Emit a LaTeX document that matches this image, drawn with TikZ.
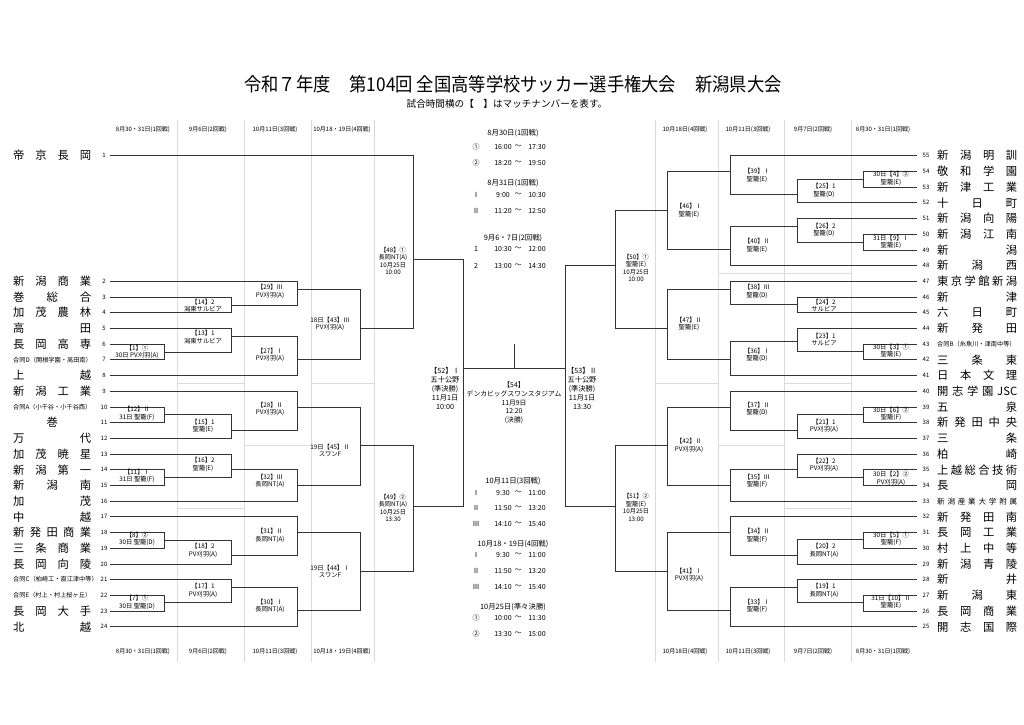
\documentclass[tikz,border=0pt]{standalone}
\usepackage{fontspec}
\setmainfont{Noto Sans CJK JP}
\newfontfamily\titlefont[FakeStretch=0.91]{Noto Sans CJK JP}
\newcommand\NL[1]{\makebox[78pt][s]{#1}}
\newcommand\NR[1]{\makebox[80pt][s]{#1}}
\newcommand\LTeam[4][tname]{%
  \coordinate (t#2) at (110,{155.7+15.7*#3});
  \node[tnum] (n#2) at (104,{155.7+15.7*#3}) {#2};
  \node[#1] (nm#2) at (13,{155.7+15.7*#3}) {#4};}
\newcommand\RTeam[3][tname]{%
  \coordinate (t#2) at (917,{155.7+15.7*(55-#2)});
  \node[tnum] (n#2) at (926,{155.7+15.7*(55-#2)}) {#2};
  \node[#1] (nm#2) at (937,{155.7+15.7*(55-#2)}) {#3};}
\newcommand\Mbr[3]{\draw[br] (#1) -- (#1 -| #3) -- (#2 -| #3) -- (#2);}
\newcommand\TTrow[5]{%
  \node[tt] (#1s) at (476,#2) {#3};
  \node[tt] (#1a) at (503,#2) {#4};
  \node[tt] (#1w) at (518,#2) {～};
  \node[tt] (#1b) at (537,#2) {#5};}
\begin{document}
\begin{tikzpicture}[x=1pt,y=-1pt,
  br/.style={draw=black!80,line width=0.8pt},
  gl/.style={draw=black!14,line width=0.6pt},
  lab/.style={align=center,inner sep=0pt,font=\fontsize{6.3}{7.8}\selectfont},
  labbig/.style={align=center,inner sep=0pt,font=\fontsize{7.2}{9}\selectfont},
  hdr/.style={inner sep=0pt,font=\fontsize{6}{7}\selectfont},
  tnum/.style={inner sep=0pt,font=\fontsize{6}{7}\selectfont},
  tname/.style={anchor=west,inner sep=0pt,font=\fontsize{11.3}{11}\selectfont},
  tsmall/.style={anchor=west,inner sep=0pt,font=\fontsize{6.2}{7}\selectfont},
  tmid/.style={anchor=west,inner sep=0pt,font=\fontsize{7.6}{8}\selectfont},
  tt/.style={inner sep=0pt,font=\fontsize{7}{8}\selectfont},
  tdate/.style={inner sep=0pt,font=\fontsize{7.4}{8}\selectfont}]
\useasboundingbox[fill=white] (0,0) rectangle (1024,724);

% ---------- light grid ----------
\foreach \x in {177,244,311,374,655,718,784,851} \draw[gl] (\x,120) -- (\x,662);
\draw[gl] (177,383) -- (244,383); \draw[gl] (311,383) -- (374,383);
\draw[gl] (244,445) -- (311,445); \draw[gl] (177,508) -- (244,508);
\draw[gl] (718,273) -- (851,273);
\draw[gl] (655,383) -- (718,383); \draw[gl] (784,383) -- (851,383);
\draw[gl] (718,445) -- (784,445); \draw[gl] (784,508) -- (851,508);

% ---------- titles ----------
\node[inner sep=0pt,font=\titlefont\fontsize{19}{21}\selectfont] (title) at (513,84)
  {令和７年度\quad 第104回 全国高等学校サッカー選手権大会\quad 新潟県大会};
\node[inner sep=0pt,font=\fontsize{9.6}{11}\selectfont] (sub) at (507,104)
  {試合時間横の【　】はマッチナンバーを表す。};

% ---------- column headers ----------
\foreach \x/\t [count=\i] in {143/8月30・31日(1回戦),208/9月6日(2回戦),275/10月11日(3回戦),342/10月18・19日(4回戦),685/10月18日(4回戦),748/10月11日(3回戦),813/9月7日(2回戦),883/8月30・31日(1回戦)}{
  \node[hdr] (ht\i) at (\x,130) {\t};
  \node[hdr] (hb\i) at (\x,652) {\t};}

% ---------- columns ----------
\coordinate (L1) at (164,0); \coordinate (L2) at (231,0); \coordinate (L3) at (297,0);
\coordinate (L4) at (360,0); \coordinate (L5) at (413,0); \coordinate (L6) at (463,0);
\coordinate (R1) at (863,0); \coordinate (R2) at (797,0); \coordinate (R3) at (730,0);
\coordinate (R4) at (667,0); \coordinate (R5) at (615,0); \coordinate (R6) at (565,0);

% ---------- left teams ----------
\LTeam{1}{0}{\NL{帝 京 長 岡}}
\LTeam{2}{8}{\NL{新 潟 商 業}}
\LTeam{3}{9}{\NL{巻 総 合}}
\LTeam{4}{10}{\NL{加 茂 農 林}}
\LTeam{5}{11}{\NL{高 田}}
\LTeam{6}{12}{\NL{長 岡 高 専}}
\LTeam[tsmall]{7}{13}{合同D（関根学園・高田南）}
\LTeam{8}{14}{\NL{上 越}}
\LTeam{9}{15}{\NL{新 潟 工 業}}
\LTeam[tsmall]{10}{16}{合同A（小千谷・小千谷西）}
\LTeam{11}{17}{\makebox[78pt]{巻}}
\LTeam{12}{18}{\NL{万 代}}
\LTeam{13}{19}{\NL{加 茂 暁 星}}
\LTeam{14}{20}{\NL{新 潟 第 一}}
\LTeam{15}{21}{\NL{新 潟 南}}
\LTeam{16}{22}{\NL{加 茂}}
\LTeam{17}{23}{\NL{中 越}}
\LTeam{18}{24}{\NL{新 発 田 商 業}}
\LTeam{19}{25}{\NL{三 条 商 業}}
\LTeam{20}{26}{\NL{長 岡 向 陵}}
\LTeam[tsmall]{21}{27}{合同C（柏崎工・直江津中等）}
\LTeam[tsmall]{22}{28}{合同E（村上・村上桜ヶ丘）}
\LTeam{23}{29}{\NL{長 岡 大 手}}
\LTeam{24}{30}{\NL{北 越}}

% ---------- right teams ----------
\RTeam{55}{\NR{新 潟 明 訓}}
\RTeam{54}{\NR{敬 和 学 園}}
\RTeam{53}{\NR{新 津 工 業}}
\RTeam{52}{\NR{十 日 町}}
\RTeam{51}{\NR{新 潟 向 陽}}
\RTeam{50}{\NR{新 潟 江 南}}
\RTeam{49}{\NR{新 潟}}
\RTeam{48}{\NR{新 潟 西}}
\RTeam{47}{\NR{東 京 学 館 新 潟}}
\RTeam{46}{\NR{新 津}}
\RTeam{45}{\NR{六 日 町}}
\RTeam{44}{\NR{新 発 田}}
\RTeam[tsmall]{43}{合同B（糸魚川・津南中等）}
\RTeam{42}{\NR{三 条 東}}
\RTeam{41}{\NR{日 本 文 理}}
\RTeam{40}{\NR{開 志 学 園 JSC}}
\RTeam{39}{\NR{五 泉}}
\RTeam{38}{\NR{新 発 田 中 央}}
\RTeam{37}{\NR{三 条}}
\RTeam{36}{\NR{柏 崎}}
\RTeam{35}{\NR{上 越 総 合 技 術}}
\RTeam{34}{\NR{長 岡}}
\RTeam[tmid]{33}{\NR{新 潟 産 業 大 学 附 属}}
\RTeam{32}{\NR{新 発 田 南}}
\RTeam{31}{\NR{長 岡 工 業}}
\RTeam{30}{\NR{村 上 中 等}}
\RTeam{29}{\NR{新 潟 青 陵}}
\RTeam{28}{\NR{新 井}}
\RTeam{27}{\NR{新 潟 東}}
\RTeam{26}{\NR{長 岡 商 業}}
\RTeam{25}{\NR{開 志 国 際}}

% ---------- left bracket ----------
\Mbr{t6}{t7}{L1}   \coordinate (o1) at (164,352);
\Mbr{t3}{t4}{L2}   \coordinate (o14) at (231,305);
\Mbr{t5}{o1}{L2}   \coordinate (o13) at (231,336);
\Mbr{t2}{o14}{L3}  \coordinate (o29) at (297,289);
\Mbr{o13}{t8}{L3}  \coordinate (o27) at (297,359.8);
\Mbr{o29}{o27}{L4} \coordinate (o43) at (360,328);
\Mbr{t1}{o43}{L5}  \coordinate (o48) at (413,259);
\Mbr{t10}{t11}{L1} \coordinate (o12) at (164,414);
\Mbr{o12}{t12}{L2} \coordinate (o15) at (231,430);
\Mbr{t9}{o15}{L3}  \coordinate (o28) at (297,406.9);
\Mbr{t14}{t15}{L1} \coordinate (o11) at (164,477);
\Mbr{t13}{o11}{L2} \coordinate (o16) at (231,469);
\Mbr{o16}{t16}{L3} \coordinate (o32) at (297,485.4);
\Mbr{o28}{o32}{L4} \coordinate (o45) at (360,445.7);
\Mbr{t18}{t19}{L1} \coordinate (o8) at (164,540);
\Mbr{o8}{t20}{L2}  \coordinate (o18) at (231,555);
\Mbr{t17}{o18}{L3} \coordinate (o31) at (297,532);
\Mbr{t22}{t23}{L1} \coordinate (o7) at (164,602);
\Mbr{t21}{o7}{L2}  \coordinate (o17) at (231,587);
\Mbr{o17}{t24}{L3} \coordinate (o30) at (297,610);
\Mbr{o31}{o30}{L4} \coordinate (o44) at (360,571);
\Mbr{o45}{o44}{L5} \coordinate (o49) at (413,506);
\Mbr{o48}{o49}{L6} \coordinate (o52) at (463,368);

% ---------- right bracket ----------
\Mbr{t54}{t53}{R1} \coordinate (o4) at (863,179);
\Mbr{o4}{t52}{R2}  \coordinate (o25) at (797,194.3);
\Mbr{t55}{o25}{R3} \coordinate (o39) at (730,171.4);
\Mbr{t50}{t49}{R1} \coordinate (o9) at (863,242);
\Mbr{t51}{o9}{R2}  \coordinate (o26) at (797,226);
\Mbr{o26}{t48}{R3} \coordinate (o40) at (730,249);
\Mbr{o39}{o40}{R4} \coordinate (o46) at (667,210.7);
\Mbr{t46}{t45}{R2} \coordinate (o24) at (797,304);
\Mbr{t47}{o24}{R3} \coordinate (o38) at (730,289);
\Mbr{t43}{t42}{R1} \coordinate (o3) at (863,351);
\Mbr{t44}{o3}{R2}  \coordinate (o23) at (797,341);
\Mbr{o23}{t41}{R3} \coordinate (o36) at (730,359.8);
\Mbr{o38}{o36}{R4} \coordinate (o47) at (667,328);
\Mbr{o46}{o47}{R5} \coordinate (o50) at (615,265.7);
\Mbr{t39}{t38}{R1} \coordinate (o6) at (863,414);
\Mbr{o6}{t37}{R2}  \coordinate (o21) at (797,430);
\Mbr{t40}{o21}{R3} \coordinate (o37) at (730,406.9);
\Mbr{t35}{t34}{R1} \coordinate (o2) at (863,477);
\Mbr{t36}{o2}{R2}  \coordinate (o22) at (797,469);
\Mbr{o22}{t33}{R3} \coordinate (o35) at (730,485.4);
\Mbr{o37}{o35}{R4} \coordinate (o42) at (667,445.7);
\Mbr{t31}{t30}{R1} \coordinate (o5) at (863,539);
\Mbr{o5}{t29}{R2}  \coordinate (o20) at (797,555);
\Mbr{t32}{o20}{R3} \coordinate (o34) at (730,532);
\Mbr{t27}{t26}{R1} \coordinate (o10) at (863,602);
\Mbr{t28}{o10}{R2} \coordinate (o19) at (797,587);
\Mbr{o19}{t25}{R3} \coordinate (o33) at (730,610);
\Mbr{o34}{o33}{R4} \coordinate (o41) at (667,571);
\Mbr{o42}{o41}{R5} \coordinate (o51) at (615,506);
\Mbr{o50}{o51}{R6} \coordinate (o53) at (565,368);

% ---------- final ----------
\draw[br] (o52) -- (o53);
\coordinate (f54) at (514,344);
\draw[br] (f54) -- (f54 |- o52);

% ---------- left labels ----------
\node[lab] (l1)  at (137,352)   {【1】①\\30日 PV刈羽(A)};
\node[lab] (l14) at (203,305.5) {【14】2\\潟東サルビア};
\node[lab] (l13) at (203,337)   {【13】1\\潟東サルビア};
\node[lab] (l29) at (270,291.5) {【29】Ⅲ\\PV刈羽(A)};
\node[lab] (l27) at (270,355)   {【27】Ⅰ\\PV刈羽(A)};
\node[lab] (l43) at (330,324)   {18日【43】Ⅲ\\PV刈羽(A)};
\node[lab,font=\fontsize{6.2}{7.4}\selectfont] (l48) at (393,261) {【48】①\\長岡NT(A)\\10月25日\\10:00};
\node[lab] (l12) at (137,413.5) {【12】Ⅱ\\31日 聖籠(F)};
\node[lab] (l15) at (203,426)   {【15】1\\聖籠(E)};
\node[lab] (l28) at (270,409)   {【28】Ⅱ\\PV刈羽(A)};
\node[lab] (l11) at (137,476)   {【11】Ⅰ\\31日 聖籠(F)};
\node[lab] (l16) at (203,464.5) {【16】2\\聖籠(E)};
\node[lab] (l32) at (270,481)   {【32】Ⅲ\\長岡NT(A)};
\node[lab] (l45) at (330,450.5) {19日【45】Ⅱ\\スワンF};
\node[lab] (l8)  at (137,539)   {【8】②\\30日 聖籠(D)};
\node[lab] (l18) at (203,550.5) {【18】2\\PV刈羽(A)};
\node[lab] (l31) at (270,535.5) {【31】Ⅱ\\長岡NT(A)};
\node[lab] (l7)  at (137,602.5) {【7】①\\30日 聖籠(D)};
\node[lab] (l17) at (203,590.5) {【17】1\\PV刈羽(A)};
\node[lab] (l30) at (270,606)   {【30】Ⅰ\\長岡NT(A)};
\node[lab] (l44) at (330,571.5) {19日【44】Ⅰ\\スワンF};
\node[lab,font=\fontsize{6.2}{7.4}\selectfont] (l49) at (393,508) {【49】②\\長岡NT(A)\\10月25日\\13:30};

% ---------- right labels ----------
\node[lab] (l4)  at (891,178.5) {30日【4】②\\聖籠(E)};
\node[lab] (l25) at (824,190.5) {【25】1\\聖籠(D)};
\node[lab] (l39) at (757,175.5) {【39】Ⅰ\\聖籠(E)};
\node[lab] (l9)  at (891,242)   {31日【9】Ⅰ\\聖籠(E)};
\node[lab] (l26) at (824,230)   {【26】2\\聖籠(D)};
\node[lab] (l40) at (757,245.5) {【40】Ⅱ\\聖籠(E)};
\node[lab] (l46) at (689,210.5) {【46】Ⅰ\\聖籠(E)};
\node[lab] (l38) at (757,291.5) {【38】Ⅲ\\聖籠(D)};
\node[lab] (l24) at (824,305.5) {【24】2\\サルビア};
\node[lab] (l3)  at (891,351)   {30日【3】①\\聖籠(E)};
\node[lab] (l23) at (824,339.5) {【23】1\\サルビア};
\node[lab] (l36) at (757,355)   {【36】Ⅰ\\聖籠(D)};
\node[lab] (l47) at (689,324)   {【47】Ⅱ\\聖籠(E)};
\node[lab,font=\fontsize{6.2}{7.4}\selectfont] (l50) at (636,268) {【50】①\\聖籠(E)\\10月25日\\10:00};
\node[lab] (l6)  at (891,414)   {30日【6】②\\聖籠(F)};
\node[lab] (l21) at (824,426)   {【21】1\\PV刈羽(A)};
\node[lab] (l37) at (757,409)   {【37】Ⅱ\\聖籠(D)};
\node[lab] (l2)  at (891,478.5) {30日【2】②\\PV刈羽(A)};
\node[lab] (l22) at (824,465)   {【22】2\\PV刈羽(A)};
\node[lab] (l35) at (757,481)   {【35】Ⅲ\\聖籠(F)};
\node[lab] (l42) at (689,445.5) {【42】Ⅱ\\PV刈羽(A)};
\node[lab] (l5)  at (891,539)   {30日【5】①\\聖籠(F)};
\node[lab] (l20) at (824,550.5) {【20】2\\長岡NT(A)};
\node[lab] (l34) at (757,535.5) {【34】Ⅱ\\聖籠(F)};
\node[lab] (l10) at (891,602)   {31日【10】Ⅱ\\聖籠(E)};
\node[lab] (l19) at (824,590.5) {【19】1\\長岡NT(A)};
\node[lab] (l33) at (757,606)   {【33】Ⅰ\\聖籠(F)};
\node[lab] (l41) at (689,575)   {【41】Ⅰ\\PV刈羽(A)};
\node[lab,font=\fontsize{6.2}{7.4}\selectfont] (l51) at (636,507.5) {【51】②\\聖籠(E)\\10月25日\\13:00};

% ---------- semifinal / final labels ----------
\node[labbig] (l52) at (445,388) {【52】Ⅰ\\五十公野\\(準決勝)\\11月1日\\10:00};
\node[labbig] (l53) at (582,388) {【53】Ⅱ\\五十公野\\(準決勝)\\11月1日\\13:30};
\node[lab,font=\fontsize{6.8}{8.7}\selectfont] (l54) at (514,403) {【54】\\デンカビッグスワンスタジアム\\11月9日\\12:20\\(決勝)};

% ---------- timetable ----------
\node[tdate] (d1) at (513,133) {8月30日(1回戦)};
\TTrow{a1}{147}{①}{16:00}{17:30}
\TTrow{a2}{163}{②}{18:20}{19:50}
\node[tdate] (d2) at (513,183) {8月31日(1回戦)};
\TTrow{b1}{195}{Ⅰ}{9:00}{10:30}
\TTrow{b2}{211}{Ⅱ}{11:20}{12:50}
\node[tdate] (d3) at (513,238) {9月6・7日(2回戦)};
\TTrow{c1}{249}{1}{10:30}{12:00}
\TTrow{c2}{266}{2}{13:00}{14:30}
\node[tdate] (d4) at (513,481) {10月11日(3回戦)};
\TTrow{e1}{493}{Ⅰ}{9:30}{11:00}
\TTrow{e2}{508}{Ⅱ}{11:50}{13:20}
\TTrow{e3}{524}{Ⅲ}{14:10}{15:40}
\node[tdate] (d5) at (513,544) {10月18・19日(4回戦)};
\TTrow{g1}{555}{Ⅰ}{9:30}{11:00}
\TTrow{g2}{571}{Ⅱ}{11:50}{13:20}
\TTrow{g3}{587}{Ⅲ}{14:10}{15:40}
\node[tdate] (d6) at (513,607) {10月25日(準々決勝)};
\TTrow{h1}{618}{①}{10:00}{11:30}
\TTrow{h2}{634}{②}{13:30}{15:00}
\end{tikzpicture}
\end{document}
